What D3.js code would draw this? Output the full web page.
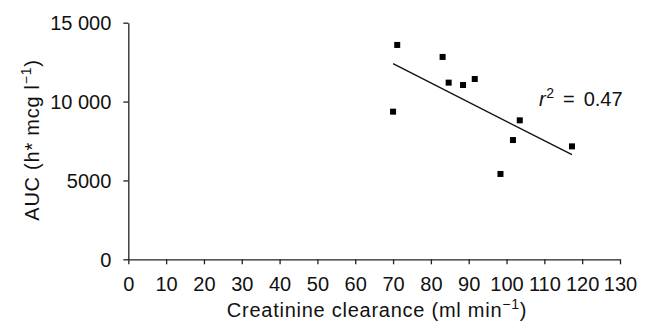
<!DOCTYPE html>
<html>
<head>
<meta charset="utf-8">
<script src="https://cdn.jsdelivr.net/npm/d3@7"></script>
<style>
  html, body { margin: 0; padding: 0; background: #fff; }
  svg { display: block; }
  text { font-family: "Liberation Sans", Arial, Helvetica, sans-serif; fill: #111; }
</style>
</head>
<body>
<svg id="chart" width="653" height="321"></svg>
<script>
// Data
const clearance = [71.1, 70.0, 83.1, 84.7, 88.5, 91.6, 103.5, 101.7, 98.4, 117.3];
const auc       = [13590, 9360, 12830, 11200, 11050, 11430, 8810, 7560, 5410, 7160];
const xTicks = [0, 10, 20, 30, 40, 50, 60, 70, 80, 90, 100, 110, 120, 130];
const yTicks = [0, 5000, 10000, 15000];
const yTickLabels = ["0", "5000", "10 000", "15 000"];
const r2Label = "0.47";

const svg = d3.select("#chart");
const x = d3.scaleLinear().domain([0, 130]).range([128.3, 620]);
const y = d3.scaleLinear().domain([0, 15000]).range([259.3, 22.7]);

const FS = 20;

// Axes
const xAxis = d3.axisBottom(x).tickValues(xTicks).tickSize(5).tickSizeOuter(0).tickPadding(4).tickFormat(d3.format("d"));
const yAxis = d3.axisLeft(y).tickValues(yTicks).tickSize(5).tickSizeOuter(0).tickPadding(12)
  .tickFormat(d => yTickLabels[yTicks.indexOf(d)]);

const gx = svg.append("g").attr("transform", `translate(0,${y(0)})`).call(xAxis);
const gy = svg.append("g").attr("transform", `translate(${x(0)},0)`).call(yAxis);

[gx, gy].forEach(g => {
  g.select(".domain").attr("stroke", "#222").attr("stroke-width", 1.3);
  g.selectAll(".tick line").attr("stroke", "#222").attr("stroke-width", 1.3);
  g.selectAll(".tick text").attr("font-size", FS).attr("fill", "#111")
    .style("font-family", '"Liberation Sans", Arial, Helvetica, sans-serif');
});
gx.selectAll(".tick text").attr("dy", null).attr("y", 0)
  .attr("transform", "translate(0,31.7)");
gy.selectAll(".tick text").attr("dy", "0.35em");

// Regression line (least squares from data)
const n = clearance.length;
const mx = d3.mean(clearance), my = d3.mean(auc);
let sxy = 0, sxx = 0;
for (let i = 0; i < n; i++) { sxy += (clearance[i]-mx)*(auc[i]-my); sxx += (clearance[i]-mx)**2; }
const slope = sxy / sxx, icpt = my - slope * mx;
const x0 = d3.min(clearance), x1 = d3.max(clearance);
svg.append("line")
  .attr("x1", x(x0)).attr("y1", y(icpt + slope*x0))
  .attr("x2", x(x1)).attr("y2", y(icpt + slope*x1))
  .attr("stroke", "#111").attr("stroke-width", 1.4);

// Points (squares)
const S = 6;
svg.append("g").selectAll("rect").data(clearance.map((c, i) => [c, auc[i]])).join("rect")
  .attr("x", d => x(d[0]) - S/2).attr("y", d => y(d[1]) - S/2)
  .attr("width", S).attr("height", S).attr("fill", "#000");

// r^2 annotation
const rt = svg.append("text").attr("x", 539).attr("y", 106).attr("font-size", FS);
rt.append("tspan").text("r").attr("font-style", "italic");
rt.append("tspan").text("2").attr("font-size", 14).attr("dy", -8).attr("dx", 0.5);
rt.append("tspan").text("=").attr("dy", 8).attr("dx", 9);
rt.append("tspan").text(r2Label).attr("dx", 9);

// X axis title
const xt = svg.append("text").attr("x", 377).attr("y", 317).attr("text-anchor", "middle")
  .attr("font-size", FS).attr("letter-spacing", 0.75);
xt.append("tspan").text("Creatinine clearance (ml min");
xt.append("tspan").text("\u22121").attr("font-size", 14).attr("dy", -8);
xt.append("tspan").text(")").attr("dy", 8);

// Y axis title
const yt = svg.append("text").attr("transform", "translate(38.5,140) rotate(-90)").attr("text-anchor", "middle")
  .attr("font-size", FS).attr("letter-spacing", 0.75);
yt.append("tspan").text("AUC (h* mcg l");
yt.append("tspan").text("\u22121").attr("font-size", 14).attr("dy", -8);
yt.append("tspan").text(")").attr("dy", 8);
</script>
</body>
</html>
